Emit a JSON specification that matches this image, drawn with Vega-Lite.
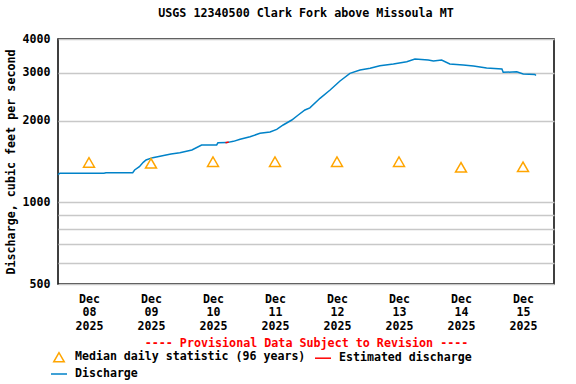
{
  "$schema": "https://vega.github.io/schema/vega-lite/v6.json",
  "width": 496,
  "height": 245,
  "autosize": "none",
  "padding": {"left": 58, "top": 39, "right": 22, "bottom": 100},
  "background": "#ffffff",
  "config": {
    "font": "DejaVu Sans Mono",
    "view": {"stroke": "#000000", "strokeWidth": 1.5},
    "axis": {
      "labelFont": "DejaVu Sans Mono",
      "labelFontWeight": "bold",
      "labelFontSize": 11.6,
      "labelColor": "#000000",
      "titleFont": "DejaVu Sans Mono",
      "titleFontWeight": "bold",
      "titleFontSize": 11.7,
      "titleColor": "#000000",
      "ticks": false,
      "domain": false,
      "gridColor": "#c8c8c8",
      "gridWidth": 1.5
    },
    "legend": {
      "labelFont": "DejaVu Sans Mono",
      "labelFontWeight": "bold",
      "labelFontSize": 11.6,
      "labelColor": "#000000",
      "labelLimit": 400
    }
  },
  "title": {
    "text": "USGS 12340500 Clark Fork above Missoula MT",
    "font": "DejaVu Sans Mono",
    "fontSize": 11.7,
    "fontWeight": "bold",
    "color": "#000000",
    "anchor": "middle",
    "offset": 13
  },
  "layer": [
    {
      "data": {
        "values": [
          {"time": "2025-12-08T00:00", "cfs": 1265, "series": "Discharge"},
          {"time": "2025-12-08T00:45", "cfs": 1280, "series": "Discharge"},
          {"time": "2025-12-08T17:45", "cfs": 1280, "series": "Discharge"},
          {"time": "2025-12-08T18:35", "cfs": 1286, "series": "Discharge"},
          {"time": "2025-12-09T04:55", "cfs": 1286, "series": "Discharge"},
          {"time": "2025-12-09T05:40", "cfs": 1316, "series": "Discharge"},
          {"time": "2025-12-09T07:30", "cfs": 1353, "series": "Discharge"},
          {"time": "2025-12-09T09:00", "cfs": 1404, "series": "Discharge"},
          {"time": "2025-12-09T10:05", "cfs": 1432, "series": "Discharge"},
          {"time": "2025-12-09T12:40", "cfs": 1461, "series": "Discharge"},
          {"time": "2025-12-09T15:30", "cfs": 1480, "series": "Discharge"},
          {"time": "2025-12-09T17:50", "cfs": 1494, "series": "Discharge"},
          {"time": "2025-12-09T19:45", "cfs": 1507, "series": "Discharge"},
          {"time": "2025-12-09T23:10", "cfs": 1524, "series": "Discharge"},
          {"time": "2025-12-10T03:50", "cfs": 1559, "series": "Discharge"},
          {"time": "2025-12-10T07:35", "cfs": 1627, "series": "Discharge"},
          {"time": "2025-12-10T13:25", "cfs": 1627, "series": "Discharge"},
          {"time": "2025-12-10T13:55", "cfs": 1658, "series": "Discharge"},
          {"time": "2025-12-10T17:20", "cfs": 1660, "series": "Discharge"},
          {"time": "2025-12-10T19:55", "cfs": 1678, "series": "Discharge"},
          {"time": "2025-12-10T22:30", "cfs": 1707, "series": "Discharge"},
          {"time": "2025-12-11T02:20", "cfs": 1745, "series": "Discharge"},
          {"time": "2025-12-11T06:10", "cfs": 1796, "series": "Discharge"},
          {"time": "2025-12-11T10:05", "cfs": 1816, "series": "Discharge"},
          {"time": "2025-12-11T12:40", "cfs": 1858, "series": "Discharge"},
          {"time": "2025-12-11T15:10", "cfs": 1928, "series": "Discharge"},
          {"time": "2025-12-11T18:30", "cfs": 2011, "series": "Discharge"},
          {"time": "2025-12-11T21:00", "cfs": 2098, "series": "Discharge"},
          {"time": "2025-12-11T23:35", "cfs": 2190, "series": "Discharge"},
          {"time": "2025-12-12T01:30", "cfs": 2230, "series": "Discharge"},
          {"time": "2025-12-12T05:25", "cfs": 2418, "series": "Discharge"},
          {"time": "2025-12-12T09:20", "cfs": 2594, "series": "Discharge"},
          {"time": "2025-12-12T13:10", "cfs": 2801, "series": "Discharge"},
          {"time": "2025-12-12T17:00", "cfs": 2989, "series": "Discharge"},
          {"time": "2025-12-12T20:55", "cfs": 3074, "series": "Discharge"},
          {"time": "2025-12-13T00:50", "cfs": 3119, "series": "Discharge"},
          {"time": "2025-12-13T04:35", "cfs": 3188, "series": "Discharge"},
          {"time": "2025-12-13T09:50", "cfs": 3235, "series": "Discharge"},
          {"time": "2025-12-13T15:00", "cfs": 3298, "series": "Discharge"},
          {"time": "2025-12-13T18:10", "cfs": 3375, "series": "Discharge"},
          {"time": "2025-12-13T23:20", "cfs": 3347, "series": "Discharge"},
          {"time": "2025-12-14T01:20", "cfs": 3318, "series": "Discharge"},
          {"time": "2025-12-14T04:30", "cfs": 3347, "series": "Discharge"},
          {"time": "2025-12-14T07:40", "cfs": 3235, "series": "Discharge"},
          {"time": "2025-12-14T12:50", "cfs": 3207, "series": "Discharge"},
          {"time": "2025-12-14T16:50", "cfs": 3180, "series": "Discharge"},
          {"time": "2025-12-14T21:55", "cfs": 3127, "series": "Discharge"},
          {"time": "2025-12-15T03:50", "cfs": 3100, "series": "Discharge"},
          {"time": "2025-12-15T04:20", "cfs": 3014, "series": "Discharge"},
          {"time": "2025-12-15T09:35", "cfs": 3029, "series": "Discharge"},
          {"time": "2025-12-15T12:05", "cfs": 2972, "series": "Discharge"},
          {"time": "2025-12-15T16:35", "cfs": 2962, "series": "Discharge"},
          {"time": "2025-12-15T17:00", "cfs": 2935, "series": "Discharge"}
        ]
      },
      "mark": {"type": "line", "strokeWidth": 1.5},
      "encoding": {
        "x": {
          "field": "time",
          "type": "temporal",
          "scale": {"domain": [{"year": 2025, "month": 12, "date": 8}, {"year": 2025, "month": 12, "date": 16}]},
          "axis": {
            "title": "---- Provisional Data Subject to Revision ----",
            "titleColor": "#ff0000",
            "titlePadding": 6,
            "labelPadding": 9,
            "labelLineHeight": 13.5,
            "labelAlign": "center",
            "labelBaseline": "top",
            "values": [
              {"year": 2025, "month": 12, "date": 8, "hours": 12},
              {"year": 2025, "month": 12, "date": 9},
              {"year": 2025, "month": 12, "date": 9, "hours": 12},
              {"year": 2025, "month": 12, "date": 10},
              {"year": 2025, "month": 12, "date": 10, "hours": 12},
              {"year": 2025, "month": 12, "date": 11},
              {"year": 2025, "month": 12, "date": 11, "hours": 12},
              {"year": 2025, "month": 12, "date": 12},
              {"year": 2025, "month": 12, "date": 12, "hours": 12},
              {"year": 2025, "month": 12, "date": 13},
              {"year": 2025, "month": 12, "date": 13, "hours": 12},
              {"year": 2025, "month": 12, "date": 14},
              {"year": 2025, "month": 12, "date": 14, "hours": 12},
              {"year": 2025, "month": 12, "date": 15},
              {"year": 2025, "month": 12, "date": 15, "hours": 12}
            ],
            "labelExpr": "hours(datum.value) == 12 ? [timeFormat(datum.value, '%b'), timeFormat(datum.value, '%d'), timeFormat(datum.value, '%Y')] : ''",
            "gridOpacity": {"condition": {"test": "hours(datum.value) == 0", "value": 1}, "value": 0}
          }
        },
        "y": {
          "field": "cfs",
          "type": "quantitative",
          "scale": {"type": "log", "domain": [500, 4000], "nice": false, "zero": false},
          "axis": {
            "title": "Discharge, cubic feet per second",
            "titlePadding": 6,
            "labelPadding": 8,
            "values": [500, 600, 700, 800, 900, 1000, 2000, 3000, 4000],
            "labelExpr": "indexof([500, 1000, 2000, 3000, 4000], datum.value) >= 0 ? format(datum.value, 'd') : ''"
          }
        },
        "color": {
          "field": "series",
          "type": "nominal",
          "scale": {
            "domain": ["Median daily statistic (96 years)", "Estimated discharge", "Discharge"],
            "range": ["#ffa500", "#ff0000", "#0082c8"]
          },
          "legend": {
            "title": null,
            "orient": "none",
            "legendX": -8,
            "legendY": 309,
            "direction": "horizontal",
            "columns": 2,
            "symbolSize": 256,
            "symbolType": "stroke",
            "labelOffset": 7,
            "columnPadding": 6,
            "rowPadding": -2,
            "encode": {
              "symbols": {
                "update": {
                  "shape": {"signal": "datum.value === 'Median daily statistic (96 years)' ? 'triangle-up' : 'stroke'"},
                  "size": {"signal": "datum.value === 'Median daily statistic (96 years)' ? 110 : 256"},
                  "fill": {"value": "transparent"},
                  "fillOpacity": {"value": 0},
                  "stroke": {"signal": "scale('color', datum.value)"},
                  "strokeWidth": {"value": 1.5},
                  "opacity": {"value": 1}
                }
              }
            }
          }
        }
      }
    },
    {
      "data": {
        "values": [
          {"time": "2025-12-10T16:50", "cfs": 1658, "series": "Estimated discharge"},
          {"time": "2025-12-10T18:05", "cfs": 1668, "series": "Estimated discharge"}
        ]
      },
      "mark": {"type": "line", "strokeWidth": 1.5},
      "encoding": {
        "x": {"field": "time", "type": "temporal"},
        "y": {"field": "cfs", "type": "quantitative"},
        "color": {"field": "series", "type": "nominal"}
      }
    },
    {
      "data": {
        "values": [
          {"time": "2025-12-08T12:00", "cfs": 1403, "series": "Median daily statistic (96 years)"},
          {"time": "2025-12-09T12:00", "cfs": 1393, "series": "Median daily statistic (96 years)"},
          {"time": "2025-12-10T12:00", "cfs": 1412, "series": "Median daily statistic (96 years)"},
          {"time": "2025-12-11T12:00", "cfs": 1412, "series": "Median daily statistic (96 years)"},
          {"time": "2025-12-12T12:00", "cfs": 1412, "series": "Median daily statistic (96 years)"},
          {"time": "2025-12-13T12:00", "cfs": 1412, "series": "Median daily statistic (96 years)"},
          {"time": "2025-12-14T12:00", "cfs": 1346, "series": "Median daily statistic (96 years)"},
          {"time": "2025-12-15T12:00", "cfs": 1352, "series": "Median daily statistic (96 years)"}
        ]
      },
      "mark": {"type": "point", "shape": "triangle-up", "filled": false, "size": 120, "strokeWidth": 1.5, "opacity": 1},
      "encoding": {
        "x": {"field": "time", "type": "temporal"},
        "y": {"field": "cfs", "type": "quantitative"},
        "color": {"field": "series", "type": "nominal"}
      }
    }
  ]
}
